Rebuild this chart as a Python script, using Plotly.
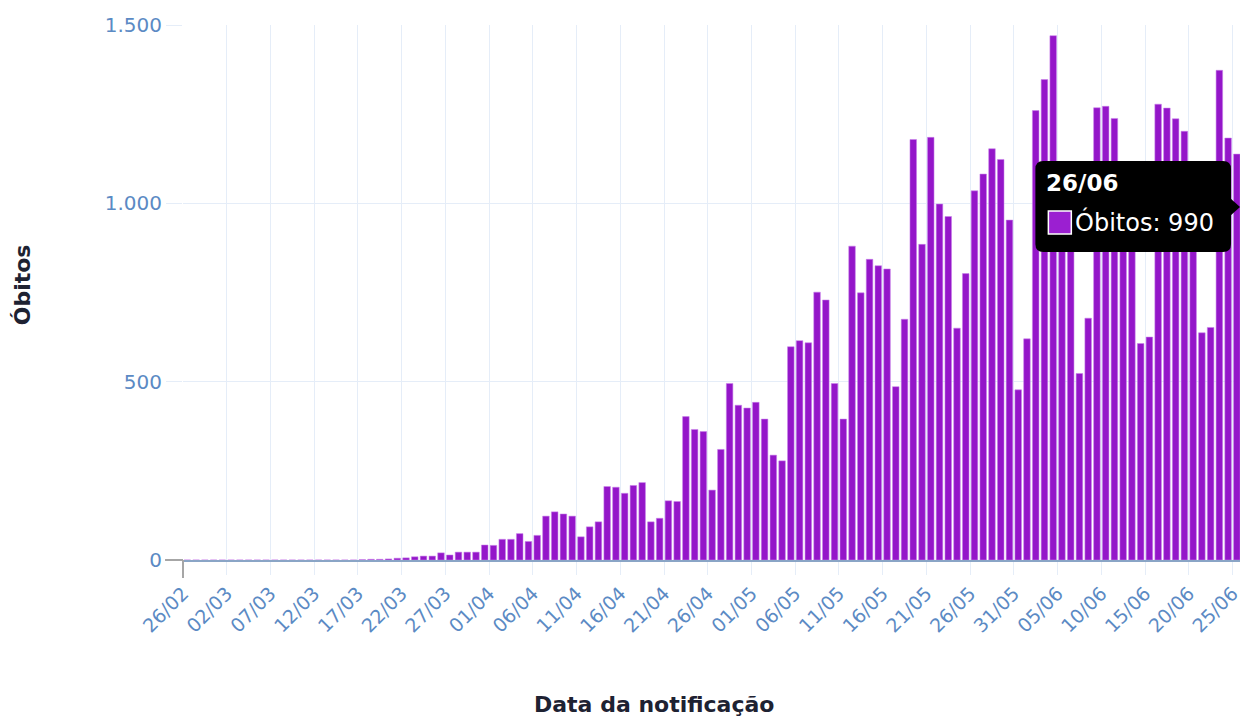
import pandas as pd
import plotly.graph_objects as go

# daily deaths by notification date, 26/02 .. 26/06
inicio = "2020-02-26"
obitos = [
    0, 0, 0, 0, 0, 0, 0, 0, 0, 0, 0, 0, 0, 0, 0, 0, 0, 0, 0, 0,
    # 17/03 - 31/03
    1, 2, 2, 3, 5, 6, 9, 11, 11, 20, 14, 22, 22, 22, 42,
    # abril
    41, 58, 58, 74, 52, 69, 123, 135, 129, 123, 65, 93, 107, 206, 204,
    187, 209, 217, 107, 117, 166, 164, 402, 366, 360, 196, 310, 495, 434, 426,
    # maio
    442, 395, 294, 278, 598, 615, 609, 751, 729, 495, 395, 880, 749, 843, 825,
    816, 486, 675, 1179, 885, 1185, 998, 963, 650, 803, 1035, 1082, 1153, 1123, 953, 477,
    # junho
    620, 1260, 1347, 1470, 1005, 904, 523, 678, 1268, 1272, 1238, 909, 892, 607, 625,
    1278, 1267, 1237, 1202, 1022, 637, 652, 1373, 1183, 1138, 990,
]
datas = pd.date_range(inicio, periods=len(obitos), freq="D")

y_max = 1500
x_fim = "2020-06-25 20:38"

# body margin is removed below, so page pixels == figure pixels
L, T, W, H = 183, 25, 1059, 535
FIG_W, FIG_H = 1242, 722
FONT = "DejaVu Sans"
TICK_COLOR = "#5b8ac4"
GRID = "#e5edf8"
ROXO = "#9416c9"


def px(x):
    return (x - L) / W


def py(y):
    return (T + H - y) / H


fig = go.Figure(go.Bar(
    x=datas,
    y=obitos,
    xperiod=86400000,
    xperiodalignment="middle",
    marker=dict(color=ROXO, line=dict(color="rgba(200,130,235,0.55)", width=1)),
    name="Óbitos",
    hovertemplate="%{x|%d/%m}<br>Óbitos: %{y}<extra></extra>",
))

fig.update_xaxes(
    type="date",
    range=[inicio, x_fim],
    tick0=inicio,
    dtick=5 * 86400000,
    tickformat="%d/%m",
    tickangle=-45,
    ticklabeloverflow="allow",
    tickfont=dict(family=FONT, size=19, color=TICK_COLOR),
    ticks="outside", ticklen=13, tickcolor=GRID,
    showgrid=True, gridcolor=GRID, gridwidth=1,
    showline=True, linecolor="#8aa5c6", linewidth=2,
    zeroline=False,
)
fig.update_yaxes(
    range=[0, y_max],
    dtick=500,
    tickformat=",d",
    tickfont=dict(family=FONT, size=20, color=TICK_COLOR),
    ticks="outside", ticklen=16, tickcolor=GRID,
    showgrid=True, gridcolor=GRID, gridwidth=1,
    zeroline=False,
)

# tooltip for the last day, drawn as shapes + text
tip_x = L + W
tip_y = T + H - obitos[-1] * H / y_max
bl, br = tip_x - 205, tip_x - 9
bt, bb = tip_y - 46, tip_y + 45
r = 8
caixa = (
    f"M {px(bl + r)} {py(bt)} L {px(br - r)} {py(bt)} Q {px(br)} {py(bt)} {px(br)} {py(bt + r)} "
    f"L {px(br)} {py(bb - r)} Q {px(br)} {py(bb)} {px(br - r)} {py(bb)} "
    f"L {px(bl + r)} {py(bb)} Q {px(bl)} {py(bb)} {px(bl)} {py(bb - r)} "
    f"L {px(bl)} {py(bt + r)} Q {px(bl)} {py(bt)} {px(bl + r)} {py(bt)} Z"
)
seta = f"M {px(br - 1)} {py(tip_y - 9)} L {px(tip_x)} {py(tip_y)} L {px(br - 1)} {py(tip_y + 9)} Z"

shapes = [
    dict(type="path", xref="paper", yref="paper", path=caixa, fillcolor="black", line=dict(width=0)),
    dict(type="path", xref="paper", yref="paper", path=seta, fillcolor="black", line=dict(width=0)),
    dict(type="rect", xref="paper", yref="paper",
         x0=px(bl + 13), x1=px(bl + 36), y0=py(tip_y + 4), y1=py(tip_y + 27),
         fillcolor="#9b1fd1", line=dict(color="white", width=1.5)),
    # grey cross at the origin
    dict(type="line", xref="paper", yref="paper", x0=px(165), x1=0, y0=0, y1=0,
         line=dict(color="#a6a6a6", width=2)),
    dict(type="line", xref="paper", yref="paper", x0=0, x1=0, y0=0, y1=py(T + H + 18),
         line=dict(color="#a6a6a6", width=2)),
]

annotations = [
    dict(text=f"<b>{datas[-1].strftime('%d/%m')}</b>", xref="paper", yref="paper",
         x=px(bl + 9), y=py(tip_y - 24), xanchor="left", yanchor="middle", showarrow=False,
         font=dict(family=FONT, size=23, color="white")),
    dict(text=f"Óbitos: {obitos[-1]}", xref="paper", yref="paper",
         x=px(bl + 38), y=py(tip_y + 15), xanchor="left", yanchor="middle", showarrow=False,
         font=dict(family=FONT, size=24, color="white")),
    dict(text="<b>Óbitos</b>", xref="paper", yref="paper", x=px(22), y=py(285),
         textangle=-90, xanchor="center", yanchor="middle", showarrow=False,
         font=dict(family=FONT, size=22, color="#1e2232")),
    dict(text="<b>Data da notificação</b>", xref="paper", yref="paper", x=px(655), y=py(704),
         xanchor="center", yanchor="middle", showarrow=False,
         font=dict(family=FONT, size=22, color="#1e2232")),
]

fig.update_layout(
    width=FIG_W, height=FIG_H,
    margin=dict(l=L, r=FIG_W - L - W, t=T, b=FIG_H - T - H),
    plot_bgcolor="white", paper_bgcolor="white",
    bargap=0.25,
    separators=",.",
    showlegend=False,
    shapes=shapes,
    annotations=annotations,
)

# drop the default page margin and scrollbars, hide the modebar
fig.write_html(
    "out.html",
    config={"displayModeBar": False},
    post_script="document.body.style.margin='0';"
                "document.documentElement.style.overflow='hidden';",
)
